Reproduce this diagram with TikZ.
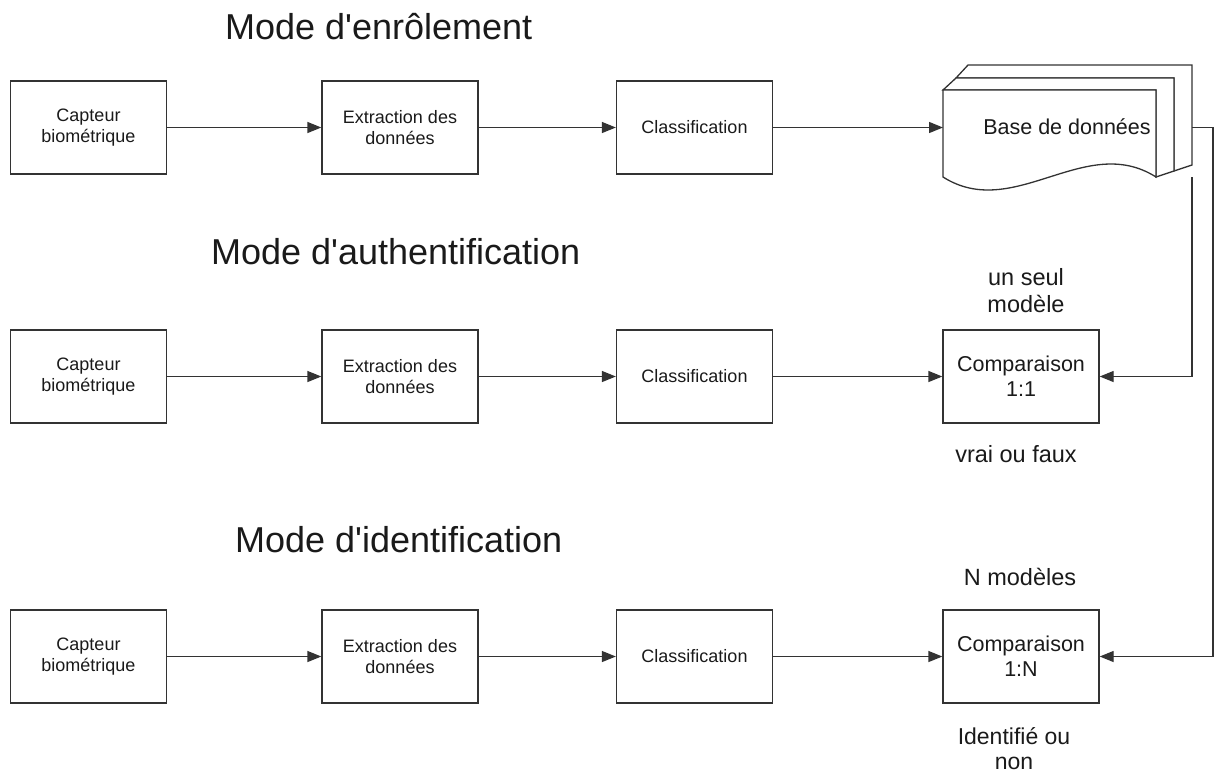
\documentclass[tikz,border=0pt]{standalone}
\usepackage{fontspec}
\setmainfont{Liberation Sans}
\usetikzlibrary{arrows.meta}
\definecolor{ink}{HTML}{1A1A1A}
\definecolor{edge}{HTML}{333333}
\tikzset{
  stepbox/.style={draw=edge, line width=1.3pt, minimum width=156pt, minimum height=93pt,
    inner sep=0pt, align=center, text=ink, font=\fontsize{18}{21}\selectfont},
  cmpbox/.style={stepbox, font=\fontsize{21.5}{25}\selectfont},
  conn/.style={draw=edge, line width=1.3pt, -{Triangle[length=14pt,width=11pt]}},
  wire/.style={draw=edge, line width=1.3pt},
  modetitle/.style={anchor=base west, inner sep=0pt, text=ink, font=\fontsize{36}{40}\selectfont},
  note/.style={align=center, inner sep=0pt, text=ink, font=\fontsize{23.5}{27}\selectfont}
}
\begin{document}
\begin{tikzpicture}[x=1pt,y=-1pt]
\useasboundingbox (0,0) rectangle (1214,772);

% ---------- titles ----------
\node[modetitle] (t1) at (225,39)  {Mode d\textquotesingle enrôlement};
\node[modetitle] (t2) at (211,264) {Mode d\textquotesingle authentification};
\node[modetitle] (t3) at (235,552) {Mode d\textquotesingle identification};

% ---------- enrolment row ----------
\node[stepbox] (cap1) at (88.5,127.5) {Capteur\\biométrique};
\node[stepbox] (ext1) at (400,127.5)  {Extraction des\\données};
\node[stepbox] (cls1) at (694.5,127.5) {Classification};

% database: three stacked sheets with a wavy front edge
\draw[wire, fill=white] (968,65) -- (1192,65) -- (1192,165) -- (1174,171) -- (1174,78) -- (956,78) -- cycle;
\draw[wire, fill=white] (956,78) -- (1174,78) -- (1174,171) -- (1156,177) -- (1156,90) -- (943,90) -- cycle;
\draw[wire, fill=white] (943,90) -- (1156,90) -- (1156,177)
  .. controls (1085,132) and (1014,222) .. (943,177) -- cycle;
\node[inner sep=0pt, text=ink, font=\fontsize{21.5}{25}\selectfont] (db) at (1067,127) {Base de données};
\coordinate (dbin)   at (943,127.5);
\coordinate (dbout)  at (1192,127.5);
\coordinate (dbfoot) at (1192,177);

\draw[conn] (cap1) -- (ext1);
\draw[conn] (ext1) -- (cls1);
\draw[conn] (cls1) -- (dbin);

% ---------- authentication row ----------
\node[stepbox] (cap2) at (88.5,376.5) {Capteur\\biométrique};
\node[stepbox] (ext2) at (400,376.5)  {Extraction des\\données};
\node[stepbox] (cls2) at (694.5,376.5) {Classification};
\node[cmpbox]  (cmp1) at (1021,376.5) {Comparaison\\1:1};

\draw[conn] (cap2) -- (ext2);
\draw[conn] (ext2) -- (cls2);
\draw[conn] (cls2) -- (cmp1);
\draw[conn] (dbfoot) |- (cmp1.east);

\node[note, anchor=base] (n1a) at (1026,285) {un seul};
\node[note, anchor=base] (n1b) at (1026,312) {modèle};
\node[note, anchor=base] (n1c) at (1016,462) {vrai ou faux};

% ---------- identification row ----------
\node[stepbox] (cap3) at (88.5,656.5) {Capteur\\biométrique};
\node[stepbox] (ext3) at (400,656.5)  {Extraction des\\données};
\node[stepbox] (cls3) at (694.5,656.5) {Classification};
\node[cmpbox]  (cmpN) at (1021,656.5) {Comparaison\\1:N};

\draw[conn] (cap3) -- (ext3);
\draw[conn] (ext3) -- (cls3);
\draw[conn] (cls3) -- (cmpN);
\draw[conn] (dbout) -- ++(21,0) |- (cmpN.east);

\node[note, anchor=base] (n2a) at (1020,585) {N modèles};
\node[note, anchor=south, text depth=0pt, font=\fontsize{23}{25}\selectfont] (n2b) at (1014,769.5) {Identifié ou\\non};
\end{tikzpicture}
\end{document}
